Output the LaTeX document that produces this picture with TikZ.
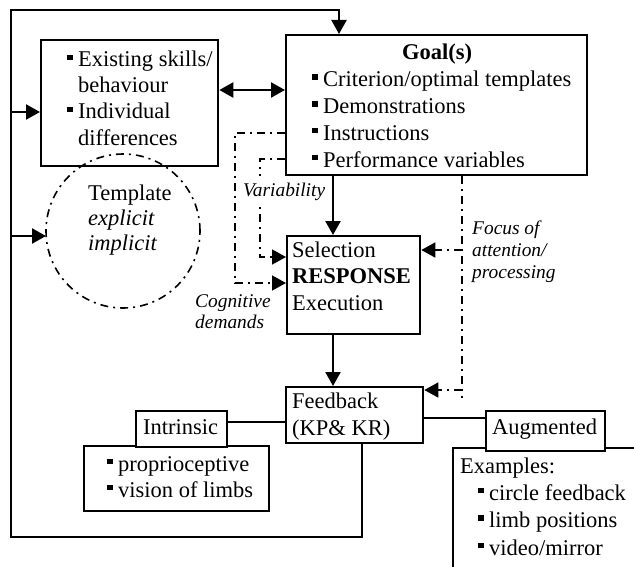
\documentclass[tikz,border=0pt]{standalone}
\usepackage{fontspec}
\setmainfont{Liberation Serif}
\usetikzlibrary{arrows.meta,calc}
\newcommand{\bul}{\raisebox{7pt}{\rule{5.5pt}{5.5pt}}\hspace{5.5pt}}
\newcommand{\ind}{\hspace{11pt}}
\begin{document}
\begin{tikzpicture}[x=1pt,y=-1pt,
 box/.style={draw, line width=2.3pt, rectangle, inner sep=0pt, anchor=north west},
 txt/.style={inner sep=0pt, align=left, anchor=base west, font=\fontsize{22.5}{26.7}\selectfont},
 lbl/.style={inner sep=0pt, align=left, anchor=base west, font=\fontsize{19.4}{21.5}\selectfont\itshape},
 tip/.style={-{Triangle[length=14pt,width=15pt]}},
 arr/.style={line width=2.3pt, tip},
 dd/.style={line width=1.6pt, dash pattern=on 8pt off 5pt on 2pt off 5pt},
 thin/.style={line width=1.4pt}
 ]
\useasboundingbox (0,0) rectangle (634,567);
% boxes
\node[box, minimum width=177pt, minimum height=126pt] (exist) at (40,39) {};
\node[box, minimum width=301pt, minimum height=140pt] (goal) at (285,34) {};
\node[draw, circle, line width=1.6pt, dash pattern=on 8pt off 5pt on 2pt off 5pt, minimum size=154pt, inner sep=0pt] (tmpl) at (123,231) {};
\node[box, minimum width=133pt, minimum height=98pt] (sel) at (286,235) {};
\node[box, minimum width=137pt, minimum height=56pt] (fb) at (285,386) {};
\node[box, minimum width=185pt, minimum height=65pt] (ilist) at (83,445) {};
\node[box, fill=white, minimum width=91pt, minimum height=36pt] (intr) at (135,410) {};
\node[inner sep=0pt, anchor=north west, minimum width=181pt, minimum height=119pt] (ex) at (453,448) {};
\draw[line width=2.3pt] (ex.south west) -- (ex.north west) -- (ex.north east);
\node[box, fill=white, minimum width=119pt, minimum height=40pt] (aug) at (485,410) {};
% texts (multi-line nodes: base = last line)
\node[txt, font=\fontsize{22.5}{26}\selectfont] (t1) at (67,145) {\bul Existing skills/\\\ind behaviour\\\bul Individual\\\ind differences};
\node[txt, anchor=base, font=\fontsize{22.5}{26.7}\selectfont\bfseries] (t2) at (437,60) {Goal(s)};
\node[txt] (t3) at (312,167) {\bul Criterion/optimal templates\\\bul Demonstrations\\\bul Instructions\\\bul Performance variables};
\node[txt, font=\fontsize{22.5}{25}\selectfont] (t4) at (88,250) {Template\\\textit{explicit}\\\textit{implicit}};
\node[txt, font=\fontsize{22.5}{26.5}\selectfont] (t5) at (292,310) {Selection\\\textbf{RESPONSE}\\Execution};
\node[txt, font=\fontsize{22.5}{27}\selectfont] (t6) at (292,435) {Feedback\\(KP\& KR)};
\node[txt, anchor=base] (t7) at (180.5,434) {Intrinsic};
\node[txt, font=\fontsize{22.5}{26}\selectfont] (t8) at (107,497) {\bul proprioceptive\\\bul vision of limbs};
\node[txt, anchor=base] (t9) at (544.5,434) {Augmented};
\node[txt, font=\fontsize{22.5}{27.3}\selectfont] (t10) at (460,555) {Examples:\\\hspace{18pt}\bul circle feedback\\\hspace{18pt}\bul limb positions\\\hspace{18pt}\bul video/mirror};
% outer loop
\coordinate (fbx) at (362,537);
\coordinate (bl) at (11,537);
\coordinate (tl) at (11,10);
\coordinate (gtop) at (339,10);
\draw[arr] (fbx |- fb.south) -- (fbx) -- (bl) -- (tl) -- (gtop) -- (gtop |- goal.north);
\coordinate (a1) at (11,112);
\draw[arr] (a1) -- (a1 -| exist.west);
\coordinate (a2) at (11,236);
\draw[arr] (a2) -- (46,236);
% main arrows
\coordinate (d) at (0,90);
\draw[line width=2.3pt, {Triangle[length=14pt,width=15pt]}-{Triangle[length=14pt,width=15pt]}] (exist.east |- d) -- (goal.west |- d);
\coordinate (mx) at (333,0);
\draw[arr] (goal.south -| mx) -- (sel.north -| mx);
\draw[arr] (sel.south -| mx) -- (fb.north -| mx);
% feedback links
\coordinate (i1) at (0,422);
\draw[thin] (intr.east |- i1) -- (fb.west |- i1);
\coordinate (i2) at (0,418);
\draw[thin] (fb.east |- i2) -- (aug.west |- i2);
% dash-dot links
\coordinate (p1) at (235,133); \coordinate (p2) at (235,283);
\draw[dd, tip] (goal.west |- p1) -- (p1) -- (p2) -- (sel.west |- p2);
\coordinate (q1) at (260,159); \coordinate (q2) at (260,257);
\draw[dd, tip] (goal.west |- q1) -- (q1) -- (q2) -- (sel.west |- q2);
\node[lbl, fill=white, inner xsep=1pt, inner ysep=7pt] (var) at (242,196) {Variability};
\coordinate (r0) at (462,0); \coordinate (r1) at (462,250); \coordinate (r2) at (462,390); \coordinate (r3) at (462,398);
\draw[dd] (goal.south -| r0) -- (r3);
\draw[dd, tip] (r1) -- (sel.east |- r1);
\draw[dd, tip] (r2) -- (fb.east |- r2);
\node[lbl, font=\fontsize{19.4}{21}\selectfont\itshape] (cog) at (195,328) {Cognitive\\demands};
\node[lbl, font=\fontsize{19.4}{22}\selectfont\itshape] (foc) at (472,278) {Focus of\\attention/\\processing};
\end{tikzpicture}
\end{document}
